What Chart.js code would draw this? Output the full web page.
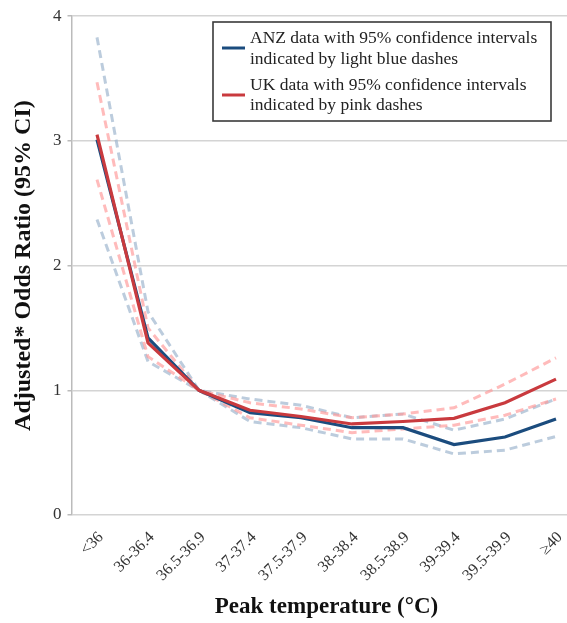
<!DOCTYPE html>
<html>
<head>
<meta charset="utf-8">
<script src="https://cdn.jsdelivr.net/npm/chart.js@4/dist/chart.umd.min.js"></script>
<style>
  html, body { margin: 0; padding: 0; background: #fff; overflow: hidden; }
  #wrap { position: relative; width: 600px; height: 623px; }
</style>
</head>
<body>
<div id="wrap"><canvas id="c"></canvas></div>
<script>
const categories = ['<36', '36-36.4', '36.5-36.9', '37-37.4', '37.5-37.9', '38-38.4', '38.5-38.9', '39-39.4', '39.5-39.9', '\u226540'];
const anzOR    = [3.01, 1.42, 1.00, 0.82, 0.78, 0.70, 0.70, 0.565, 0.625, 0.77];
const anzLower = [2.37, 1.23, 1.00, 0.75, 0.70, 0.61, 0.61, 0.49, 0.52, 0.63];
const anzUpper = [3.83, 1.63, 1.00, 0.93, 0.88, 0.78, 0.81, 0.68, 0.77, 0.93];
const ukOR     = [3.05, 1.38, 1.00, 0.84, 0.79, 0.73, 0.75, 0.775, 0.90, 1.09];
const ukLower  = [2.69, 1.27, 1.00, 0.78, 0.72, 0.66, 0.69, 0.72, 0.80, 0.93];
const ukUpper  = [3.47, 1.50, 1.00, 0.90, 0.85, 0.78, 0.81, 0.86, 1.05, 1.26];
const yTicks = [0, 1, 2, 3, 4];
const legendText = [
  ['ANZ data with 95% confidence intervals', 'indicated by light blue dashes'],
  ['UK data with 95% confidence intervals', 'indicated by pink dashes']
];

const ANZ = '#1b4c7e', UK = '#c93a3e';
const ANZ_CI = 'rgba(160,182,206,0.7)', UK_CI = 'rgba(255,150,150,0.65)';
const SERIF = '"Liberation Serif", "DejaVu Serif", serif';

function line(label, data, color, dashed, order) {
  return {
    label, data, borderColor: color, backgroundColor: color,
    borderWidth: dashed ? 3 : 3.2, borderDash: dashed ? [8, 5] : [],
    pointRadius: 0, tension: 0, fill: false, order
  };
}

const legendPlugin = {
  id: 'boxLegend',
  afterDraw(chart) {
    const ctx = chart.ctx;
    const x0 = 213, y0 = 22, x1 = 551, y1 = 121;
    ctx.save();
    ctx.fillStyle = '#fff';
    ctx.fillRect(x0, y0, x1 - x0, y1 - y0);
    ctx.strokeStyle = '#3a3a3a';
    ctx.lineWidth = 1.6;
    ctx.strokeRect(x0, y0, x1 - x0, y1 - y0);
    const cols = [ANZ, UK];
    const rows = [[38, 59, 48], [85, 105, 95]];
    ctx.font = '17.5px ' + SERIF;
    ctx.textBaseline = 'middle';
    ctx.textAlign = 'left';
    for (let i = 0; i < 2; i++) {
      ctx.strokeStyle = cols[i];
      ctx.lineWidth = 3;
      ctx.beginPath();
      ctx.moveTo(222, rows[i][2]);
      ctx.lineTo(245, rows[i][2]);
      ctx.stroke();
      ctx.fillStyle = '#222';
      ctx.fillText(legendText[i][0], 250, rows[i][0]);
      ctx.fillText(legendText[i][1], 250, rows[i][1]);
    }
    ctx.restore();
  }
};

new Chart(document.getElementById('c'), {
  type: 'line',
  data: {
    labels: categories,
    datasets: [
      line('ANZ', anzOR, ANZ, false, 1),
      line('ANZ upper 95% CI', anzUpper, ANZ_CI, true, 3),
      line('ANZ lower 95% CI', anzLower, ANZ_CI, true, 3),
      line('UK', ukOR, UK, false, 0),
      line('UK upper 95% CI', ukUpper, UK_CI, true, 2),
      line('UK lower 95% CI', ukLower, UK_CI, true, 2)
    ]
  },
  options: {
    responsive: true,
    maintainAspectRatio: false,
    animation: false,
    layout: { padding: { top: 3, right: 18.5, left: 0, bottom: 0 } },
    plugins: { legend: { display: false }, tooltip: { enabled: false } },
    scales: {
      x: {
        offset: true,
        grid: { display: false, drawTicks: false },
        border: { display: false },
        ticks: {
          minRotation: 45, maxRotation: 45, autoSkip: false, labelOffset: 4,
          color: '#333', font: { family: SERIF, size: 16 }, padding: 13
        },
        title: {
          display: true, text: 'Peak temperature (\u00b0C)', color: '#111',
          font: { family: SERIF, size: 23, weight: 'bold' }, padding: { top: 0, bottom: 2 }
        },
        afterFit(s) { s.height = 108; }
      },
      y: {
        min: 0, max: 4,
        afterBuildTicks(s) { s.ticks = yTicks.map(v => ({ value: v })); },
        grid: { color: '#d4d4d4', lineWidth: 1.5, drawTicks: true, tickLength: 4, tickColor: '#bbb' },
        border: { color: '#bbb', width: 1.5 },
        ticks: { color: '#333', font: { family: SERIF, size: 17 }, padding: 6 },
        title: {
          display: true, text: 'Adjusted* Odds Ratio (95% CI)', color: '#111',
          font: { family: SERIF, size: 24, weight: 'bold' }, padding: { top: 9, bottom: 0 }
        },
        afterFit(s) { s.width = 71.5; }
      }
    }
  },
  plugins: [legendPlugin]
});
</script>
</body>
</html>
